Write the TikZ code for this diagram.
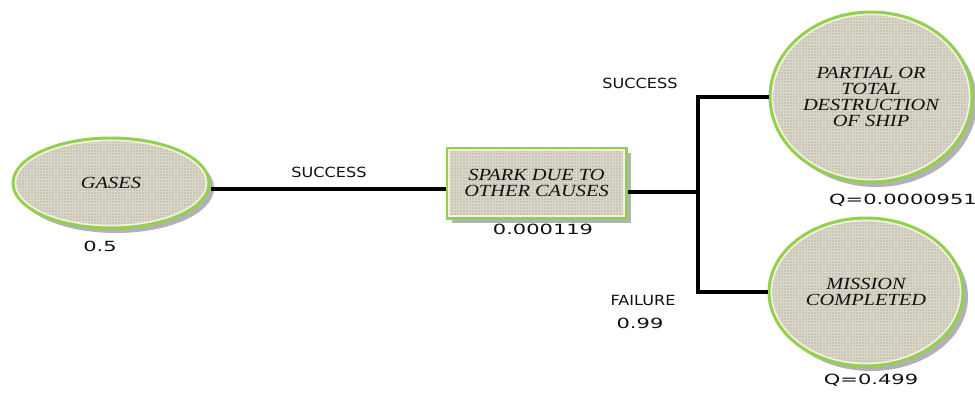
\documentclass[tikz,border=0pt]{standalone}
\usepackage{fontspec}
\usetikzlibrary{shapes.geometric,shadows,patterns}
\newfontfamily\nodefont[FakeStretch=1.2]{Liberation Serif}
\newfontfamily\labfont[FakeStretch=1.15]{DejaVu Sans}
\newfontfamily\numfont[FakeStretch=1.5]{DejaVu Sans}
\definecolor{bordergreen}{HTML}{92D050}
\definecolor{stone}{HTML}{C9C5B7}
\definecolor{stonelight}{HTML}{DAD6CA}
\definecolor{cream}{HTML}{F7F4DF}
\definecolor{inkc}{HTML}{111111}
\begin{document}
\begin{tikzpicture}[x=1pt,y=-1pt,
  textured/.style={preaction={drop shadow={shadow xshift=5pt, shadow yshift=-5pt, opacity=0.5, fill=black!60}},
    preaction={fill=stone}, pattern=grid, pattern color=stonelight},
  outcome/.style={ellipse, draw=bordergreen, line width=3pt, textured, inner sep=0pt,
    font=\nodefont\itshape\fontsize{17}{16}\selectfont, text=inkc, align=center},
  eventbox/.style={rectangle, draw=bordergreen, line width=3pt, textured, inner sep=0pt,
    font=\nodefont\itshape\fontsize{17}{16}\selectfont, text=inkc, align=center},
  ring/.style={cream, line width=1.6pt, opacity=0.9},
  link/.style={black, line width=4.5pt, line cap=butt, line join=miter},
  wordlab/.style={font=\labfont\fontsize{14}{15}\selectfont, text=inkc, inner sep=0pt},
  numlab/.style={font=\numfont\fontsize{14}{15}\selectfont, text=inkc, inner sep=0pt}
]
\useasboundingbox (0,0) rectangle (975,392);
\fill[white] (0,0) rectangle (975,392);

% nodes
\node[outcome, minimum width=196pt, minimum height=90pt] (gases) at (111,183) {GASES};
\draw[ring] (gases.center) ellipse [x radius=95.5, y radius=42.5];

\node[eventbox, minimum width=179pt, minimum height=70pt] (spark) at (536.5,183) {SPARK DUE TO\\OTHER CAUSES};
\draw[ring] ([shift={(3.5,3.5)}]spark.north west) rectangle ([shift={(-3.5,-3.5)}]spark.south east);

\node[outcome, minimum width=202pt, minimum height=170pt] (partial) at (871,97) {PARTIAL OR\\TOTAL\\DESTRUCTION\\OF SHIP};
\draw[ring] (partial.center) ellipse [x radius=98.5, y radius=82.5];

\node[outcome, minimum width=194pt, minimum height=148pt] (mission) at (866,292) {MISSION\\COMPLETED};
\draw[ring] (mission.center) ellipse [x radius=94.5, y radius=71.5];

% connectors
\coordinate (l1) at (0,189);
\coordinate (j) at (698,192);
\draw[link] (gases.east |- l1) -- (spark.west |- l1);
\draw[link] (spark.east |- j) -- (j);
\draw[link] (partial.west) -| (j) |- (mission.west);

% labels
\node[wordlab] (s1) at (329,172) {SUCCESS};
\node[numlab] (p1) at (100,246) {0.5};
\node[numlab] (p2) at (543,229) {0.000119};
\node[wordlab] (s2) at (640,83) {SUCCESS};
\node[numlab] (q1) at (903,200) {Q=0.0000951};
\node[wordlab] (f1) at (643,300) {FAILURE};
\node[numlab] (p3) at (640,323) {0.99};
\node[numlab] (q2) at (871,380) {Q=0.499};
\end{tikzpicture}
\end{document}
